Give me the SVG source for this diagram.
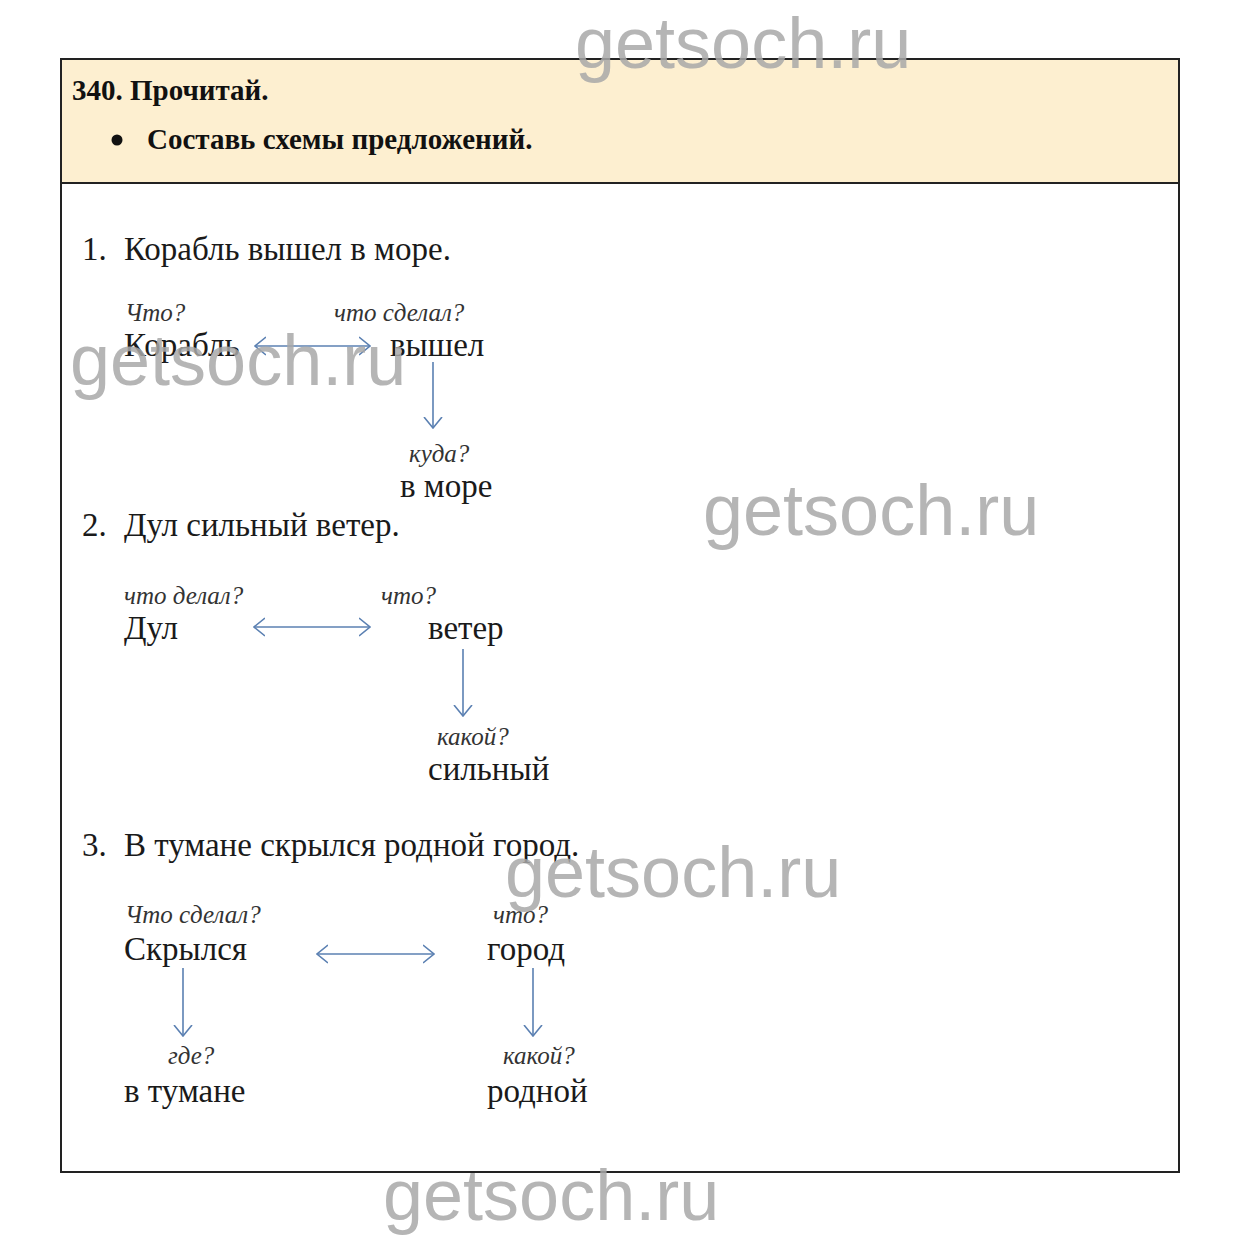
<svg xmlns="http://www.w3.org/2000/svg" width="1241" height="1241" viewBox="0 0 1241 1241">
<style>
.t{font-family:"Liberation Serif","Times New Roman",serif;font-size:33px;fill:#1a1a1a}
.h{font-family:"Liberation Serif","Times New Roman",serif;font-size:29px;font-weight:bold;fill:#111}
.q{font-family:"Liberation Serif","Times New Roman",serif;font-size:25px;font-style:italic;fill:#333}
.wm{font-family:"Liberation Sans",Arial,sans-serif;font-size:72px;fill:#a8a8a8;fill-opacity:0.85}
.c{stroke:#5b80b2;stroke-width:1.6;fill:none}
</style>
<defs>
<marker id="ah" viewBox="0 0 12 20" refX="11" refY="10" markerWidth="12" markerHeight="20" markerUnits="userSpaceOnUse" orient="auto-start-reverse">
<path d="M0,1 L11,10 L0,19" stroke="#5b80b2" stroke-width="1.6" fill="none"/>
</marker>
</defs>
<rect x="0" y="0" width="1241" height="1241" fill="#fff"/>
<g id="frame">
<rect x="61" y="59" width="1118" height="124" fill="#fdefd0"/>
<rect x="61" y="59" width="1118" height="1113" fill="none" stroke="#222" stroke-width="2"/>
<line x1="61" y1="183" x2="1179" y2="183" stroke="#222" stroke-width="2"/>
</g>
<g id="header">
<text class="h" x="72" y="100">340. Прочитай.</text>
<circle cx="117" cy="140" r="5.5" fill="#111"/>
<text class="h" x="147" y="149">Составь схемы предложений.</text>
</g>
<g id="s1">
<text class="t" x="82" y="260">1.</text>
<text class="t" x="124" y="260">Корабль вышел в море.</text>
<g id="n1a"><text class="q" x="125" y="321">Что?</text><text class="t" x="124" y="356">Корабль</text></g>
<g id="n1b"><text class="q" x="334" y="321">что сделал?</text><text class="t" x="390" y="356">вышел</text></g>
<g id="n1c"><text class="q" x="409" y="462">куда?</text><text class="t" x="400" y="497">в море</text></g>
</g>
<g id="s2">
<text class="t" x="82" y="536">2.</text>
<text class="t" x="124" y="536">Дул сильный ветер.</text>
<g id="n2a"><text class="q" x="124" y="604">что делал?</text><text class="t" x="124" y="639">Дул</text></g>
<g id="n2b"><text class="q" x="381" y="604">что?</text><text class="t" x="428" y="639">ветер</text></g>
<g id="n2c"><text class="q" x="437" y="745">какой?</text><text class="t" x="428" y="780">сильный</text></g>
</g>
<g id="s3">
<text class="t" x="82" y="856">3.</text>
<text class="t" x="124" y="856">В тумане скрылся родной город.</text>
<g id="n3a"><text class="q" x="125" y="923">Что сделал?</text><text class="t" x="124" y="960">Скрылся</text></g>
<g id="n3b"><text class="q" x="493" y="923">что?</text><text class="t" x="487" y="960">город</text></g>
<g id="n3c"><text class="q" x="168" y="1064">где?</text><text class="t" x="124" y="1102">в тумане</text></g>
<g id="n3d"><text class="q" x="503" y="1064">какой?</text><text class="t" x="487" y="1102">родной</text></g>
</g>
<g id="connectors">
<line class="c" x1="255" y1="346" x2="370" y2="346" marker-start="url(#ah)" marker-end="url(#ah)"/>
<line class="c" x1="433" y1="362" x2="433" y2="428" marker-end="url(#ah)"/>
<line class="c" x1="254" y1="627" x2="370" y2="627" marker-start="url(#ah)" marker-end="url(#ah)"/>
<line class="c" x1="463" y1="649" x2="463" y2="716" marker-end="url(#ah)"/>
<line class="c" x1="317" y1="954" x2="434" y2="954" marker-start="url(#ah)" marker-end="url(#ah)"/>
<line class="c" x1="183" y1="968" x2="183" y2="1036" marker-end="url(#ah)"/>
<line class="c" x1="533" y1="968" x2="533" y2="1036" marker-end="url(#ah)"/>
</g>
<g id="watermarks">
<text class="wm" x="575" y="68">getsoch.ru</text>
<text class="wm" x="70" y="385">getsoch.ru</text>
<text class="wm" x="703" y="535">getsoch.ru</text>
<text class="wm" x="505" y="897">getsoch.ru</text>
<text class="wm" x="383" y="1220">getsoch.ru</text>
</g>
</svg>
